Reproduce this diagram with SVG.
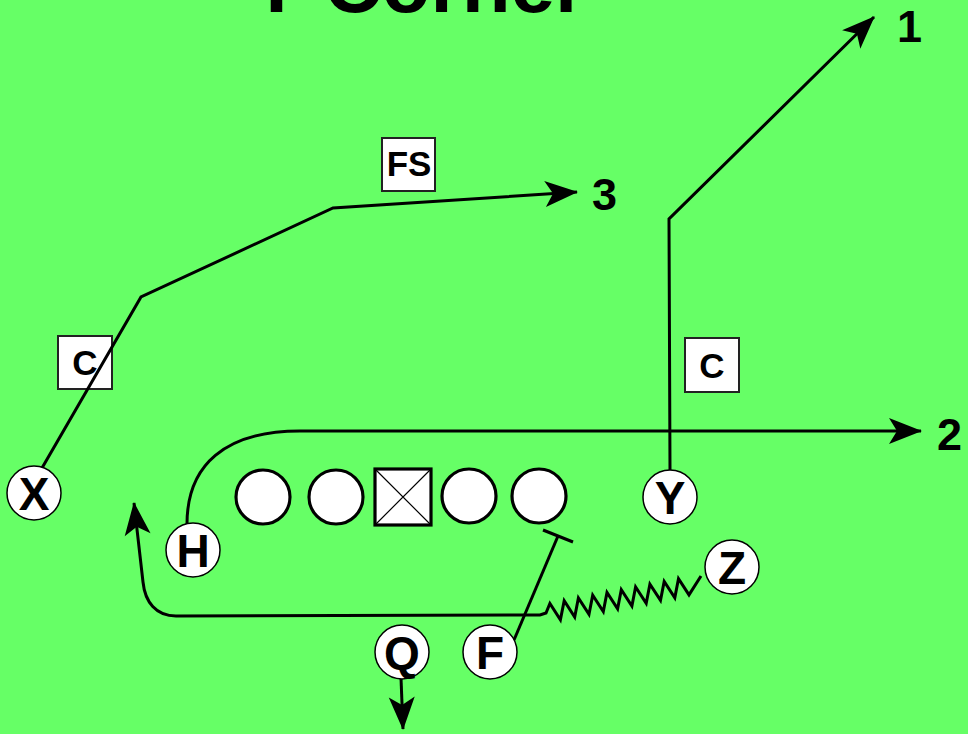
<svg xmlns="http://www.w3.org/2000/svg" width="968" height="734" viewBox="0 0 968 734">
<defs>
<style>
.bg{fill:#66ff66}
.route{fill:none;stroke:#000;stroke-width:3;stroke-linejoin:miter}
.player{fill:#fff;stroke:#000;stroke-width:1.5}
.lineman{fill:#fff;stroke:#000;stroke-width:3.2}
.plabel{font-family:"Liberation Sans",Arial,sans-serif;font-weight:bold;font-size:46px;text-anchor:middle;fill:#000}
.box{fill:#fff;stroke:#222;stroke-width:2}
.blabel{font-family:"Liberation Sans",Arial,sans-serif;font-weight:bold;font-size:35px;text-anchor:middle;fill:#000}
.num{font-family:"Liberation Sans",Arial,sans-serif;font-weight:bold;font-size:45px;fill:#000}
.title{font-family:"Liberation Sans",Arial,sans-serif;font-weight:bold;font-size:80px;text-anchor:middle;fill:#000}
</style>
<marker id="arrow" markerUnits="userSpaceOnUse" markerWidth="40" markerHeight="34" viewBox="-36 -17 40 34" refX="0" refY="0" orient="auto" overflow="visible">
<path d="M1,0 L-32,-13 L-24,0 L-32,13 Z" fill="#000"/>
</marker>
</defs>
<rect class="bg" x="0" y="0" width="968" height="734"/>
<text class="title" x="418" y="12">Y Corner</text>

<g id="label-fs"><rect class="box" x="382" y="138" width="53" height="53"/><text class="blabel" x="409" y="176">FS</text></g>
<g id="label-c-left"><rect class="box" x="58" y="336" width="54" height="53"/><text class="blabel" x="85" y="375">C</text></g>
<g id="label-c-right"><rect class="box" x="685" y="338" width="54" height="54"/><text class="blabel" x="712" y="378">C</text></g>

<g id="connectors">
<path class="route" d="M42,468 L141,297 L333,208 L577,192" marker-end="url(#arrow)"/>
<path class="route" d="M670,470 L669,219 L874,17" marker-end="url(#arrow)"/>
<path class="route" d="M187,524 C187,465 225,431 300,431 L921,431" marker-end="url(#arrow)"/>
<path class="route" d="M401,678 L403,729" marker-end="url(#arrow)"/>
<path class="route" d="M514,640 L558,536"/>
<path class="route" d="M543,530 L573,542"/>
<path class="route" d="M701,576 L689.0,594.9 L678.5,578.6 L674.8,597.7 L664.2,581.4 L660.5,600.4 L649.9,584.1 L646.2,603.2 L635.6,586.9 L631.9,606.0 L621.3,589.7 L617.6,608.7 L607.0,592.4 L603.3,611.5 L592.7,595.2 L589.0,614.2 L578.4,597.9 L574.7,617.0 L564.2,600.7 L560.4,619.8 L549.9,603.5 L546,613 L540,615 L176,616 C156,616 145,602 143,582 L134,503" marker-end="url(#arrow)"/>
</g>

<g id="lineman-1"><circle class="lineman" cx="263" cy="497" r="27"/></g>
<g id="lineman-2"><circle class="lineman" cx="336" cy="497" r="27"/></g>
<g id="center"><rect class="lineman" x="375" y="469" width="56" height="56"/><path d="M375,469 L431,525 M431,469 L375,525" stroke="#000" stroke-width="1.2"/></g>
<g id="lineman-4"><circle class="lineman" cx="469" cy="496" r="27"/></g>
<g id="lineman-5"><circle class="lineman" cx="539" cy="496" r="27"/></g>

<g id="player-x"><circle class="player" cx="34" cy="493" r="27"/><text class="plabel" x="34" y="510">X</text></g>
<g id="player-h"><circle class="player" cx="193" cy="550" r="27"/><text class="plabel" x="193" y="567">H</text></g>
<g id="player-y"><circle class="player" cx="670" cy="497" r="27"/><text class="plabel" x="670" y="514">Y</text></g>
<g id="player-z"><circle class="player" cx="732" cy="567" r="27"/><text class="plabel" x="732" y="584">Z</text></g>
<g id="player-q"><circle class="player" cx="402" cy="652" r="27"/><text class="plabel" x="402" y="669">Q</text></g>
<g id="player-f"><circle class="player" cx="490" cy="652" r="27"/><text class="plabel" x="490" y="669">F</text></g>

<text class="num" x="897" y="42">1</text>
<text class="num" x="937" y="450">2</text>
<text class="num" x="592" y="210">3</text>
</svg>
